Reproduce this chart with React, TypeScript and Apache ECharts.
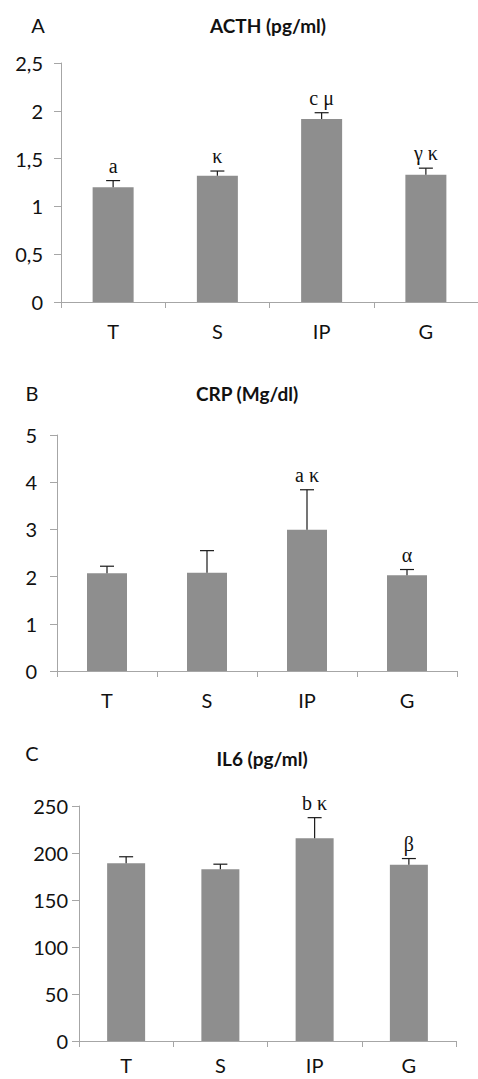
import { useEffect, useRef } from 'react';
import * as echarts from 'echarts';

const categories = ['T', 'S', 'IP', 'G'];

const acthMean = [1.2, 1.32, 1.915, 1.33];
const acthSE = [0.07, 0.05, 0.065, 0.07];
const acthLabels = ['a', 'κ', 'c μ', 'γ κ'];
const acthTicks = { min: 0, max: 2.5, interval: 0.5 };

const crpMean = [2.07, 2.08, 2.99, 2.03];
const crpSE = [0.15, 0.47, 0.85, 0.12];
const crpLabels = ['', '', 'a κ', 'α'];
const crpTicks = { min: 0, max: 5, interval: 1 };

const il6Mean = [189, 182.6, 215.6, 187.6];
const il6SE = [7, 5.5, 22, 6.5];
const il6Labels = ['', '', 'b κ', 'β'];
const il6Ticks = { min: 0, max: 250, interval: 50 };

const panels = [
  { letter: 'A', title: 'ACTH (pg/ml)', mean: acthMean, se: acthSE, labels: acthLabels, ticks: acthTicks, comma: true,
    grid: { left: 61, top: 63, width: 420, height: 239 }, barWidth: 41, yMargin: 18, xMargin: 19, letterPos: [38, 25], titlePos: [268, 25] },
  { letter: 'B', title: 'CRP (Mg/dl)', mean: crpMean, se: crpSE, labels: crpLabels, ticks: crpTicks, comma: false,
    grid: { left: 57, top: 435, width: 400, height: 236 }, barWidth: 40, yMargin: 20, xMargin: 19, letterPos: [32, 393], titlePos: [247, 393] },
  { letter: 'C', title: 'IL6 (pg/ml)', mean: il6Mean, se: il6SE, labels: il6Labels, ticks: il6Ticks, comma: false,
    grid: { left: 79, top: 806, width: 377, height: 235 }, barWidth: 38, yMargin: 11, xMargin: 14, letterPos: [32, 753], titlePos: [262, 758] },
];

const AXIS_COLOR = '#a6a6a6';
const BAR_COLOR = '#8e8e8e';
const SANS = 'Lato, "Open Sans", sans-serif';
const SERIF = '"Liberation Serif", "DejaVu Serif", serif';

export default function App() {
  const ref = useRef<HTMLDivElement>(null);
  useEffect(() => {
    document.body.style.margin = '0';
    const chart = echarts.init(ref.current!, null, { renderer: 'svg' });
    const grid: any[] = [];
    const xAxis: any[] = [];
    const yAxis: any[] = [];
    const series: any[] = [];
    const graphic: any[] = [];
    panels.forEach((p, i) => {
      grid.push({ ...p.grid, containLabel: false });
      xAxis.push({
        type: 'category', gridIndex: i, data: categories,
        axisLine: { lineStyle: { color: AXIS_COLOR, width: 1 } },
        axisTick: { show: true, length: 6, lineStyle: { color: AXIS_COLOR } },
        axisLabel: { color: '#111', fontFamily: SANS, fontSize: 20, margin: p.xMargin },
      });
      yAxis.push({
        type: 'value', gridIndex: i, min: p.ticks.min, max: p.ticks.max, interval: p.ticks.interval,
        splitLine: { show: false },
        axisLine: { show: true, lineStyle: { color: AXIS_COLOR, width: 1 } },
        axisTick: { show: true, length: 7, lineStyle: { color: AXIS_COLOR } },
        axisLabel: {
          color: '#111', fontFamily: SANS, fontSize: 20, margin: p.yMargin,
          formatter: (v: number) => (p.comma ? String(v).replace('.', ',') : String(v)),
        },
      });
      series.push({
        type: 'bar', xAxisIndex: i, yAxisIndex: i, data: p.mean, barWidth: p.barWidth,
        itemStyle: { color: BAR_COLOR },
      });
      const labels = p.labels;
      series.push({
        type: 'custom', xAxisIndex: i, yAxisIndex: i, z: 5,
        data: p.mean.map((m, k) => [k, m, p.se[k]]),
        renderItem: (params: any, api: any) => {
          const idx = api.value(0);
          const m = api.value(1);
          const se = api.value(2);
          const base = api.coord([idx, m]);
          const top = api.coord([idx, m + se]);
          const stroke = { stroke: '#1a1a1a', lineWidth: 1.2 };
          return {
            type: 'group',
            children: [
              { type: 'line', shape: { x1: base[0], y1: base[1], x2: top[0], y2: top[1] }, style: stroke },
              { type: 'line', shape: { x1: top[0] - 7, y1: top[1], x2: top[0] + 7, y2: top[1] }, style: stroke },
              {
                type: 'text', x: top[0], y: top[1] - 5,
                style: { text: labels[params.dataIndex], align: 'center', verticalAlign: 'bottom',
                  font: `20px ${SERIF}`, fill: '#111' },
              },
            ],
          };
        },
      });
      graphic.push({
        type: 'text', x: p.letterPos[0], y: p.letterPos[1],
        style: { text: p.letter, align: 'center', verticalAlign: 'middle', font: `20px ${SANS}`, fill: '#111' },
      });
      graphic.push({
        type: 'text', x: p.titlePos[0], y: p.titlePos[1],
        style: { text: p.title, align: 'center', verticalAlign: 'middle', font: `bold 19px ${SANS}`, fill: '#111' },
      });
    });
    chart.setOption({
      animation: false,
      backgroundColor: '#fff',
      grid, xAxis, yAxis, series, graphic,
    });
    return () => chart.dispose();
  }, []);
  return <div ref={ref} style={{ width: 478, height: 1079 }} />;
}
